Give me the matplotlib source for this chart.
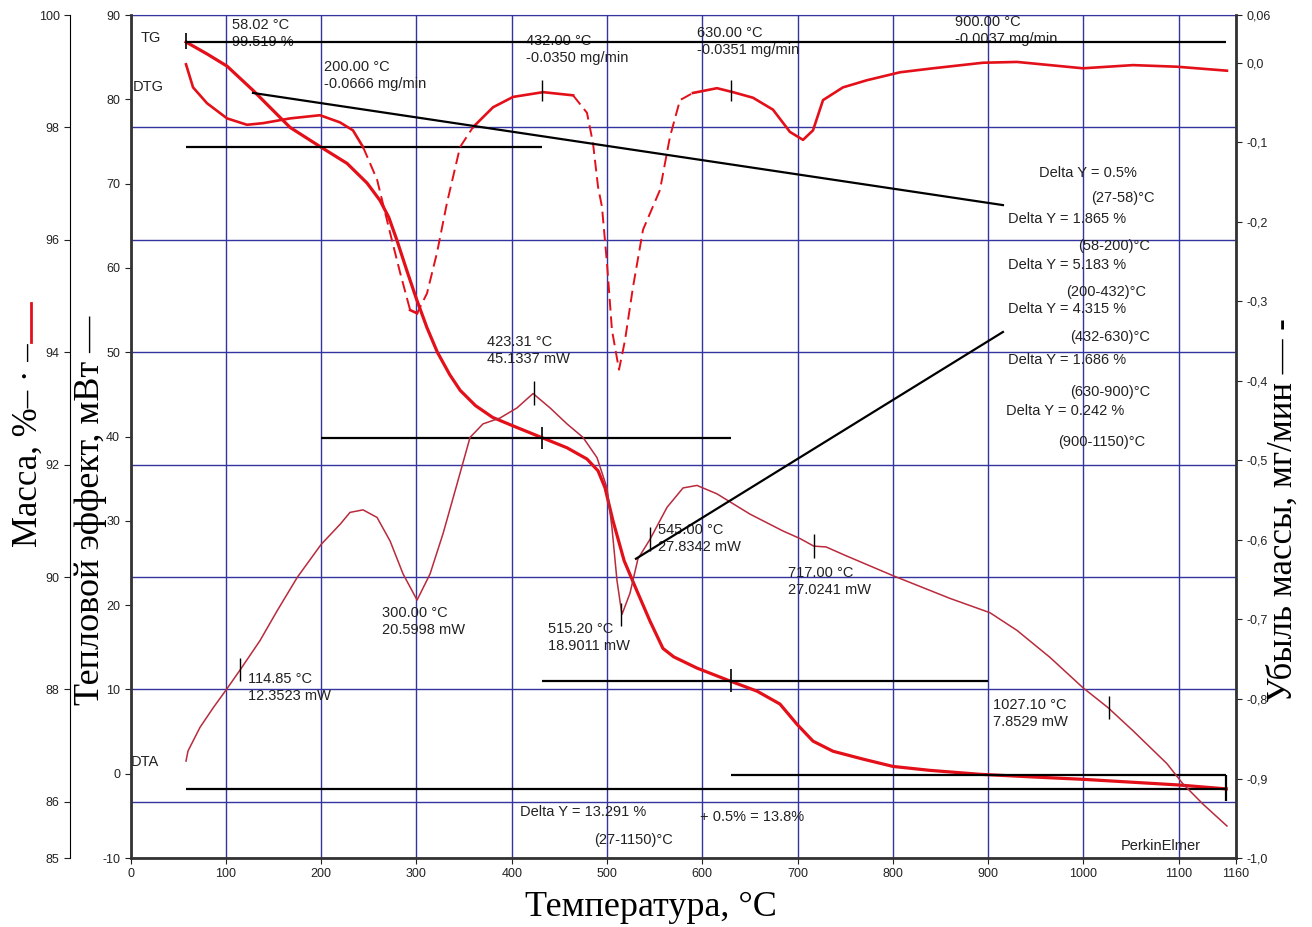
import numpy as np
import matplotlib
matplotlib.use("Agg")
import matplotlib.pyplot as plt
from matplotlib.lines import Line2D

plt.rcParams['font.family'] = ['Liberation Sans', 'DejaVu Sans']
plt.rcParams['axes.unicode_minus'] = False

# TG - масса, %
tg_t = [58.2, 80, 101.3, 128.5, 167.4, 198.8, 227.2, 248.2, 261.8, 271, 279.6, 290, 300, 311, 322, 335,
        346, 362, 380, 405.6, 431.8, 458.0, 479.0, 490.6, 497.9, 506.3, 518, 531.5, 545, 558.7,
        570, 594.4, 629.1, 657.4, 681.5, 699.4, 716.2, 737.2, 768.7, 800.1, 838.9, 891.4,
        950, 1000, 1050, 1100, 1150]
tg_m = [99.52, 99.31, 99.09, 98.66, 98.00, 97.66, 97.36, 97.01, 96.70, 96.40, 95.99, 95.45, 94.95, 94.44, 94.0, 93.6,
        93.32, 93.05, 92.84, 92.66, 92.48, 92.30, 92.10, 91.89, 91.59, 91.00, 90.29, 89.75, 89.22, 88.73,
        88.58, 88.38, 88.15, 87.97, 87.74, 87.38, 87.08, 86.90, 86.76, 86.63, 86.56, 86.49,
        86.44, 86.40, 86.35, 86.30, 86.23]

# DTG - мг/мин
dtg_t = [58.2, 65.6, 80.3, 101.3, 122.2, 139.0, 167.4, 198.8, 219.8, 233.4, 244.0, 258.7, 272.4,
         282.9, 293.4, 300.7, 311.1, 321.6, 332.1, 345.8, 359.4, 380.4, 401.4, 432.9, 464.4, 479.0,
         485.3, 490.6, 494.7, 500.0, 505.2, 512.6, 518.9, 527.3, 537.8, 555.6, 566.1, 576.6, 590.2,
         615.4, 632.2, 653.2, 674.2, 692.0, 705.7, 716.2, 726.7, 747.6, 772.8, 807.5, 842.1, 894.6,
         930.3, 999.5, 1052.0, 1098.1, 1150.6]
dtg_v = [-0.002, -0.031, -0.051, -0.070, -0.078, -0.076, -0.070, -0.066, -0.075, -0.085, -0.106,
         -0.147, -0.214, -0.264, -0.311, -0.315, -0.290, -0.239, -0.176, -0.106, -0.081, -0.056,
         -0.043, -0.037, -0.041, -0.063, -0.101, -0.156, -0.181, -0.252, -0.336, -0.386, -0.349,
         -0.282, -0.210, -0.160, -0.093, -0.047, -0.038, -0.032, -0.037, -0.044, -0.059, -0.087,
         -0.097, -0.085, -0.047, -0.031, -0.022, -0.012, -0.007, -0.000, 0.001, -0.007, -0.003,
         -0.005, -0.010]

# DTA - мВт
dta_t = [58.2, 60.3, 72.9, 86.6, 101.3, 114.9, 135.9, 153.7, 175, 200, 220, 230.3, 244.0, 258.7,
         272.4, 286.0, 300.7, 314.3, 328.0, 342.7, 356.3, 369.9, 387.8, 405.6, 422.4, 440.2, 458.0,
         474.8, 489.5, 500.0, 505.2, 510.5, 515.7, 524.1, 532.5, 545.1, 563.0, 579.8, 594.4, 615.4,
         650.0, 684.6, 702.5, 717, 730, 750, 800, 859.9, 901.9, 930.3, 964.9, 999.5, 1025.7, 1052,
         1087.6, 1104.4, 1125.4, 1150.6]
dta_w = [1.5, 2.7, 5.5, 7.8, 10.1, 12.3, 15.8, 19.3, 23.3, 27.2, 29.6, 31.0, 31.3, 30.4,
         27.6, 23.7, 20.6, 23.7, 28.5, 34.4, 39.9, 41.5, 42.2, 43.4, 45.1, 43.4, 41.5,
         39.9, 37.5, 33.9, 29.2, 22.9, 18.9, 21.4, 25.5, 27.8, 31.6, 33.9, 34.2, 33.2,
         30.8, 28.8, 27.9, 27.0, 26.9, 25.9, 23.5, 20.8, 19.1, 17.0, 13.8, 10.2, 7.85, 5.1,
         1.2, -1.2, -3.6, -6.2]

# ступени TG
step_t = [58.02, 200, 432, 630, 900, 1150]
step_d = [1.865, 5.183, 4.315, 1.686, 0.242]
tg_start = 99.519

# отметки
dtg_pt_t = [200.0, 432.0, 630.0, 900.0]
dtg_pt_v = [-0.0666, -0.0350, -0.0351, -0.0037]
dta_pt_t = [114.85, 300.00, 423.31, 515.20, 545.00, 717.00, 1027.10]
dta_pt_w = [12.3523, 20.5998, 45.1337, 18.9011, 27.8342, 27.0241, 7.8529]

# касательные
dtg_base_t = [128.5, 915.5]
dtg_base_v = [-0.038, -0.179]
dta_tan_t = [530.4, 915.5]
dta_tan_w = [25.5, 52.4]

x_ticks = [0, 100, 200, 300, 400, 500, 600, 700, 800, 900, 1000, 1100, 1160]
mass_ticks = [85, 86, 88, 90, 92, 94, 96, 98, 100]
mw_ticks = list(range(-10, 91, 10))
dtg_ticks = [0.06, 0.0, -0.1, -0.2, -0.3, -0.4, -0.5, -0.6, -0.7, -0.8, -0.9, -1.0]
dtg_labels = ["0,06", "0,0", "-0,1", "-0,2", "-0,3", "-0,4", "-0,5", "-0,6", "-0,7", "-0,8", "-0,9", "-1,0"]

GRID = '#3434a0'
RED = '#e3101a'
DTA_C = '#b82a3c'
TXT = '#222222'
fs = 10.5

fig = plt.figure(figsize=(13.12, 9.27), dpi=100)
ax = fig.add_axes([0.0995, 0.0744, 0.8425, 0.9094])
ax.set_xlim(0, 1160)
ax.set_ylim(85, 100)
ax.set_xticks(x_ticks)
ax.set_yticks(mass_ticks)
ax.grid(True, color=GRID, lw=1.0)
ax.set_axisbelow(True)
ax.spines['left'].set_position(('outward', 43.6))
ax.spines['top'].set_color(GRID)
ax.spines['bottom'].set_linewidth(2)
ax.spines['bottom'].set_color('#333333')
ax.tick_params(axis='both', direction='out', length=4, labelsize=9, colors='#222222')

ax_w = ax.twinx()
ax_w.yaxis.tick_left()
ax_w.set_ylim(-10, 90)
ax_w.set_yticks(mw_ticks)
ax_w.spines['left'].set_visible(True)
ax_w.spines['left'].set_linewidth(2)
ax_w.spines['left'].set_color('#333333')
ax_w.spines['top'].set_visible(False)
ax_w.spines['right'].set_visible(False)
ax_w.spines['bottom'].set_visible(False)
ax_w.tick_params(axis='y', direction='out', length=4, labelsize=9, colors='#222222')

ax_d = ax.twinx()
ax_d.set_ylim(-1.0, 0.06)
ax_d.set_yticks(dtg_ticks)
ax_d.set_yticklabels(dtg_labels)
ax_d.spines['right'].set_linewidth(2)
ax_d.spines['right'].set_color('#333333')
ax_d.spines['top'].set_visible(False)
ax_d.spines['left'].set_visible(False)
ax_d.spines['bottom'].set_visible(False)
ax_d.tick_params(axis='y', direction='out', length=4, labelsize=9, colors='#222222')

# TG
ax.plot(tg_t, tg_m, color=RED, lw=2.3, zorder=3, solid_joinstyle='round')

# ступени
levels = [tg_start]
for d in step_d:
    levels.append(levels[-1] - d)
ax.hlines(levels[0], step_t[0], step_t[-1], color='black', lw=1.6, zorder=4)
for i in range(1, 5):
    ax.hlines(levels[i], step_t[i - 1], step_t[i + 1], color='black', lw=1.6, zorder=4)
ax.hlines(levels[5], step_t[0], step_t[-1], color='black', lw=1.6, zorder=4)
ax.vlines(step_t[0], levels[0] - 0.13, levels[0] + 0.16, color='black', lw=1.2, zorder=4)
ax.vlines(step_t[2], levels[2] - 0.2, levels[2] + 0.2, color='black', lw=1.2, zorder=4)
ax.vlines(step_t[3], levels[3] - 0.2, levels[3] + 0.2, color='black', lw=1.2, zorder=4)
ax.vlines(step_t[-1], levels[5] - 0.22, levels[4], color='black', lw=1.6, zorder=4)

# DTG (крутые участки пиков - пунктир)
dtg_t_a = np.array(dtg_t)
dtg_v_a = np.array(dtg_v)
slope = np.abs(np.gradient(dtg_v_a, dtg_t_a))
steep = (slope > 0.0026) & (dtg_t_a > 240) & (dtg_t_a < 580)
solid_v = np.where(steep, np.nan, dtg_v_a)
dash_v = dtg_v_a.copy()
keep = steep.copy()
keep[1:] |= steep[:-1]
keep[:-1] |= steep[1:]
dash_v[~keep] = np.nan
ax_d.plot(dtg_t_a, solid_v, color=RED, lw=1.9)
ax_d.plot(dtg_t_a, dash_v, color=RED, lw=1.4, ls=(0, (6, 3)))
ax_d.plot(dtg_base_t, dtg_base_v, color='black', lw=1.6)
for t, v in zip(dtg_pt_t[1:3], dtg_pt_v[1:3]):
    ax_d.vlines(t, v - 0.013, v + 0.013, color='black', lw=1.0)

# DTA
ax_w.plot(dta_t, dta_w, color=DTA_C, lw=1.1)
ax_w.plot(dta_tan_t, dta_tan_w, color='black', lw=1.6)
for t, w in zip(dta_pt_t, dta_pt_w):
    if t == 300.0:
        continue
    ax_w.vlines(t, w - 1.4, w + 1.4, color='black', lw=1.0)

# подписи
def lbl(x, y, s, ha='left'):
    ax.text(x, y, s, fontsize=fs, color=TXT, ha=ha, va='top', linespacing=1.25, clip_on=False)

lbl(10.5, 99.71, "TG")
lbl(2.6, 98.84, "DTG")
lbl(0.5, 86.84, "DTA")
lbl(106.5, 99.95, "58.02 °C\n99.519 %")

dtg_pos = [(203.1, 99.20), (415.0, 99.66), (594.4, 99.80), (865.1, 100.0)]
for (x, y), t, v in zip(dtg_pos, dtg_pt_t, dtg_pt_v):
    lbl(x, y, f"{t:.2f} °C\n{v:.4f} mg/min")

dta_pos = [(123.3, 88.31), (263.9, 89.48), (374.1, 94.31), (438.0, 89.20),
           (553.5, 90.96), (689.9, 90.20), (905.0, 87.84)]
for (x, y), t, w in zip(dta_pos, dta_pt_t, dta_pt_w):
    lbl(x, y, f"{t:.2f} °C\n{w:.4f} mW")

lbl(953.3, 97.31, "Delta Y = 0.5%")
lbl(1007.9, 96.86, "(27-58)°C")
rng_x = [994.2, 981.6, 985.8, 985.8, 973.2]
rng_y = [96.02, 95.19, 94.39, 93.42, 92.53]
dy_x = [920.4, 920.4, 920.4, 920.4, 918.3]
dy_y = [96.49, 95.67, 94.90, 93.99, 93.08]
for i, d in enumerate(step_d):
    lbl(dy_x[i], dy_y[i], f"Delta Y = {d:.3f} %")
    lbl(rng_x[i], rng_y[i], f"({int(step_t[i]) if i else 58}-{int(step_t[i + 1])})°C")

lbl(408.7, 85.94, f"Delta Y = {sum(step_d):.3f} %")
lbl(486.3, 85.45, "(27-1150)°C")
lbl(597.6, 85.86, "+ 0.5% = 13.8%")
lbl(1039.3, 85.33, "PerkinElmer")

serif = ['Liberation Serif', 'DejaVu Serif']
fig.text(0.0213, 0.52, "Масса, %– · –", rotation=90, ha='center', va='center',
         fontsize=25, family=serif)
fig.add_artist(Line2D([0.0236, 0.0236], [0.631, 0.673], color=RED, lw=2))
fig.text(0.0686, 0.4498, "Тепловой эффект, мВт —", rotation=90, ha='center', va='center',
         fontsize=26, family=serif)
fig.text(0.978, 0.4498, "Убыль массы, мг/мин — -", rotation=90, ha='center', va='center',
         fontsize=25, family=serif)
fig.text(0.496, 0.0205, "Температура, °C", ha='center', va='center', fontsize=26, family=serif)

fig.savefig("out.png", dpi=100)
